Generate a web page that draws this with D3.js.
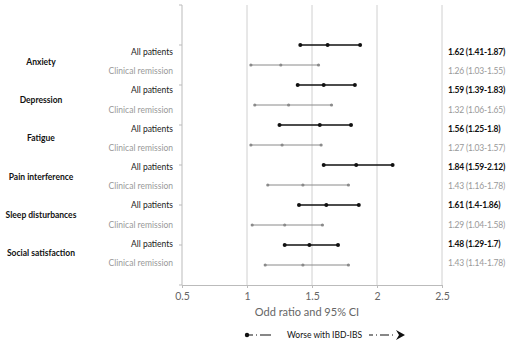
<!DOCTYPE html>
<html>
<head>
<meta charset="utf-8">
<script src="https://cdn.jsdelivr.net/npm/d3@7"></script>
<style>
  body { margin: 0; background: #fff; }
  text { font-family: Lato, "Open Sans", sans-serif; }
</style>
</head>
<body>
<div id="chart"></div>
<script>
// chart data
const outcomes = ["Anxiety", "Depression", "Fatigue", "Pain interference", "Sleep disturbances", "Social satisfaction"];
const groups = ["All patients", "Clinical remission"];
const orAll = [1.62, 1.59, 1.56, 1.84, 1.61, 1.48];
const lowAll = [1.41, 1.39, 1.25, 1.59, 1.4, 1.29];
const highAll = [1.87, 1.83, 1.8, 2.12, 1.86, 1.7];
const orRem = [1.26, 1.32, 1.27, 1.43, 1.29, 1.43];
const lowRem = [1.03, 1.06, 1.03, 1.16, 1.04, 1.14];
const highRem = [1.55, 1.65, 1.57, 1.78, 1.58, 1.78];
const xTicks = [0.5, 1, 1.5, 2, 2.5];

const width = 510, height = 341;
const svg = d3.select("#chart").append("svg")
    .attr("width", width)
    .attr("height", height);

const x = d3.scaleLinear().domain([0.5, 2.5]).range([182, 442]);
const y = d3.scaleLinear().domain([0, 14]).range([285, 5]);
// text labels sit on their own slightly tighter grid (as in the original)
const labY = d3.scalePoint().domain(d3.range(12)).range([52, 263]);

// build rows: 12 rows top to bottom
const rows = [];
outcomes.forEach((o, i) => {
    rows.push({ idx: i * 2, group: groups[0], or: orAll[i], lo: lowAll[i], hi: highAll[i], pos: 12 - i * 2, dark: true });
    rows.push({ idx: i * 2 + 1, group: groups[1], or: orRem[i], lo: lowRem[i], hi: highRem[i], pos: 11 - i * 2, dark: false });
});

// vertical gridlines
svg.selectAll("line.grid")
    .data(xTicks.slice(1))
    .enter().append("line")
    .attr("class", "grid")
    .attr("x1", d => x(d)).attr("x2", d => x(d))
    .attr("y1", y(14)).attr("y2", y(0))
    .attr("stroke", "#d0d0d0").attr("stroke-width", 1);

// y axis line with ticks
svg.append("line")
    .attr("x1", x(0.5)).attr("x2", x(0.5))
    .attr("y1", y(14)).attr("y2", y(0))
    .attr("stroke", "#bbb");
svg.selectAll("line.ytick")
    .data(d3.range(0, 15, 2))
    .enter().append("line")
    .attr("class", "ytick")
    .attr("x1", x(0.5) - 3).attr("x2", x(0.5))
    .attr("y1", d => y(d)).attr("y2", d => y(d))
    .attr("stroke", "#bbb");

// x axis
const xAxis = svg.append("g")
    .attr("transform", `translate(0,${y(0)})`)
    .call(d3.axisBottom(x).tickValues(xTicks).tickFormat(d3.format("")).tickSize(3));
xAxis.select(".domain").attr("stroke", "#bbb");
xAxis.selectAll(".tick line").attr("stroke", "#bbb");
xAxis.selectAll(".tick text")
    .attr("fill", "#666")
    .attr("font-size", 10.5)
    .attr("dy", "0.9em");

svg.append("text")
    .attr("x", 307).attr("y", 316)
    .attr("text-anchor", "middle")
    .attr("font-size", 11)
    .attr("fill", "#666")
    .text("Odd ratio and 95% CI");

// error bars
const bars = svg.selectAll("g.row")
    .data(rows)
    .enter().append("g")
    .attr("class", "row");

bars.append("line")
    .attr("x1", d => x(d.lo)).attr("x2", d => x(d.hi))
    .attr("y1", d => y(d.pos)).attr("y2", d => y(d.pos))
    .attr("stroke", d => d.dark ? "#111" : "#8a8a8a")
    .attr("stroke-width", d => d.dark ? 1.3 : 1);

bars.selectAll("circle")
    .data(d => [d.lo, d.or, d.hi].map(v => ({ v: v, pos: d.pos, dark: d.dark })))
    .enter().append("circle")
    .attr("cx", d => x(d.v))
    .attr("cy", d => y(d.pos))
    .attr("r", d => d.dark ? 2 : 1.6)
    .attr("fill", d => d.dark ? "#111" : "#8a8a8a");

// row labels
svg.selectAll("text.rowlab")
    .data(rows)
    .enter().append("text")
    .attr("class", "rowlab")
    .attr("x", 173)
    .attr("y", d => labY(d.idx))
    .attr("dy", "0.35em")
    .attr("text-anchor", "end")
    .attr("font-size", 8.5)
    .attr("fill", d => d.dark ? "#222" : "#999")
    .text(d => d.group);

// outcome labels
svg.selectAll("text.outlab")
    .data(outcomes)
    .enter().append("text")
    .attr("class", "outlab")
    .attr("x", 41)
    .attr("y", (d, i) => (labY(i * 2) + labY(i * 2 + 1)) / 2)
    .attr("dy", "0.35em")
    .attr("text-anchor", "middle")
    .attr("font-size", 8.5)
    .attr("font-weight", "bold")
    .attr("fill", "#111")
    .text(d => d);

// value labels
svg.selectAll("text.vallab")
    .data(rows)
    .enter().append("text")
    .attr("class", "vallab")
    .attr("x", 448)
    .attr("y", d => labY(d.idx))
    .attr("dy", "0.35em")
    .attr("font-size", 8.5)
    .attr("letter-spacing", -0.2)
    .attr("font-weight", d => d.dark ? "bold" : "normal")
    .attr("fill", d => d.dark ? "#111" : "#999")
    .text(d => `${d.or} (${d.lo}-${d.hi})`);

// legend
const lg = svg.append("g");
const ly = 335;
lg.append("circle").attr("cx", 247).attr("cy", ly).attr("r", 2.2).attr("fill", "#111");
lg.append("line")
    .attr("x1", 247).attr("x2", 271).attr("y1", ly).attr("y2", ly)
    .attr("stroke", "#111").attr("stroke-width", 1.2)
    .attr("stroke-dasharray", "6,3,1,3,11");
lg.append("text")
    .attr("x", 287).attr("y", ly + 3)
    .attr("font-size", 8.5)
    .attr("fill", "#111")
    .text("Worse with IBD-IBS");
lg.append("line")
    .attr("x1", 369).attr("x2", 396).attr("y1", ly).attr("y2", ly)
    .attr("stroke", "#111").attr("stroke-width", 1.2)
    .attr("stroke-dasharray", "4,3,1,3,9,3,1,4");
lg.append("path")
    .attr("d", `M396,${ly - 5} L405,${ly} L396,${ly + 5} L399,${ly} Z`)
    .attr("fill", "#111");
</script>
</body>
</html>
